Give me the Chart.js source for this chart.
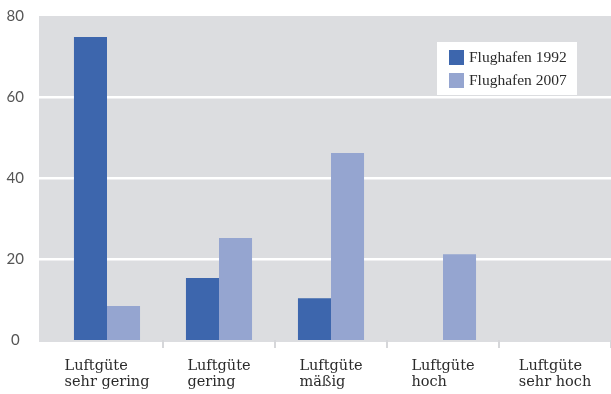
<!DOCTYPE html>
<html>
<head>
<meta charset="utf-8">
<script src="https://cdn.jsdelivr.net/npm/chart.js@4/dist/chart.umd.min.js"></script>
<style>
  html, body { margin: 0; padding: 0; background: #fff; }
  #wrap { width: 611px; height: 394px; }
</style>
</head>
<body>
<div id="wrap"><canvas id="chart" width="611" height="394"></canvas></div>
<script>
// values
var categories = [
    ['Luftgüte', 'sehr gering'],
    ['Luftgüte', 'gering'],
    ['Luftgüte', 'mäßig'],
    ['Luftgüte', 'hoch'],
    ['Luftgüte', 'sehr hoch']
];
var flughafen1992 = [74.8, 15.3, 10.3, 0, 0];
var flughafen2007 = [8.4, 25.2, 46.2, 21.2, 0];
var yTicks = [0, 20, 40, 60, 80];

var serif = '"DejaVu Serif", serif';

// gray plot area and white grid lines, drawn a little wider than the category axis
var plotBackground = {
    id: 'plotBackground',
    beforeDraw: function(chart) {
        var ctx = chart.ctx, a = chart.chartArea, y = chart.scales.y;
        ctx.save();
        ctx.fillStyle = '#dcdde0';
        ctx.fillRect(a.left - 12, a.top, a.right - a.left + 12, a.bottom - a.top + 2);
        ctx.strokeStyle = '#ffffff';
        ctx.lineWidth = 2.5;
        yTicks.forEach(function(v) {
            if (v === 0 || v === 80) return;
            var py = Math.round(y.getPixelForValue(v)) + 0.25;
            ctx.beginPath();
            ctx.moveTo(a.left - 12, py);
            ctx.lineTo(a.right, py);
            ctx.stroke();
        });
        ctx.restore();
    }
};

// two-line category labels, lines left aligned, block centred on the category
var categoryLabels = {
    id: 'categoryLabels',
    afterDraw: function(chart) {
        var ctx = chart.ctx, x = chart.scales.x, a = chart.chartArea;
        ctx.save();
        ctx.font = '14.5px ' + serif;
        ctx.fillStyle = '#2b2b2b';
        ctx.textAlign = 'left';
        ctx.textBaseline = 'alphabetic';
        categories.forEach(function(lines, i) {
            var w = 0;
            lines.forEach(function(t) { w = Math.max(w, ctx.measureText(t).width); });
            var left = x.getPixelForValue(i) - w / 2;
            lines.forEach(function(t, j) {
                ctx.fillText(t, left, a.bottom + 30 + j * 16);
            });
        });
        ctx.restore();
    }
};

// legend box inside the plot, top right
var boxLegend = {
    id: 'boxLegend',
    afterDraw: function(chart) {
        var ctx = chart.ctx, a = chart.chartArea;
        var bx = a.right - 174, by = a.top + 26;
        ctx.save();
        ctx.fillStyle = '#ffffff';
        ctx.fillRect(bx, by, 140, 53);
        ctx.font = '15.5px "Liberation Serif", serif';
        ctx.textAlign = 'left';
        ctx.textBaseline = 'middle';
        chart.data.datasets.forEach(function(ds, i) {
            var top = by + 8 + i * 23;
            ctx.fillStyle = ds.backgroundColor;
            ctx.fillRect(bx + 12, top, 15, 15);
            ctx.fillStyle = '#2b2b2b';
            ctx.fillText(ds.label, bx + 32, top + 8);
        });
        ctx.restore();
    }
};

var chart = new Chart(document.getElementById('chart'), {
    type: 'bar',
    data: {
        labels: categories,
        datasets: [
            {
                label: 'Flughafen 1992',
                data: flughafen1992,
                backgroundColor: '#3d66ad',
                borderWidth: 0
            },
            {
                label: 'Flughafen 2007',
                data: flughafen2007,
                backgroundColor: '#95a5d0',
                borderWidth: 0
            }
        ]
    },
    options: {
        responsive: false,
        animation: false,
        layout: { padding: { top: 16, right: 0, bottom: 0, left: 0 } },
        plugins: {
            legend: { display: false },
            tooltip: { enabled: false }
        },
        datasets: {
            bar: { categoryPercentage: 0.59, barPercentage: 1 }
        },
        scales: {
            x: {
                offset: true,
                ticks: { display: false },
                border: { display: false },
                grid: {
                    offset: true,
                    drawOnChartArea: false,
                    drawTicks: true,
                    tickLength: 8,
                    lineWidth: 2,
                    color: function(c) {
                        return (c.index === 0 || c.index === categories.length) ? 'rgba(0,0,0,0)' : '#d6d7da';
                    }
                },
                afterFit: function(s) { s.height = 54; }
            },
            y: {
                min: 0,
                max: 80,
                afterBuildTicks: function(s) {
                    s.ticks = yTicks.map(function(v) { return { value: v }; });
                },
                border: { display: false },
                grid: { display: false, drawTicks: false },
                ticks: {
                    crossAlign: 'center',
                    padding: 27,
                    color: '#555555',
                    font: { family: 'Lato, sans-serif', size: 15 }
                },
                afterFit: function(s) {
                    s.width = 51;
                    s.paddingTop = 0;
                    s.paddingBottom = 0;
                }
            }
        }
    },
    plugins: [plotBackground, categoryLabels, boxLegend]
});
</script>
</body>
</html>
